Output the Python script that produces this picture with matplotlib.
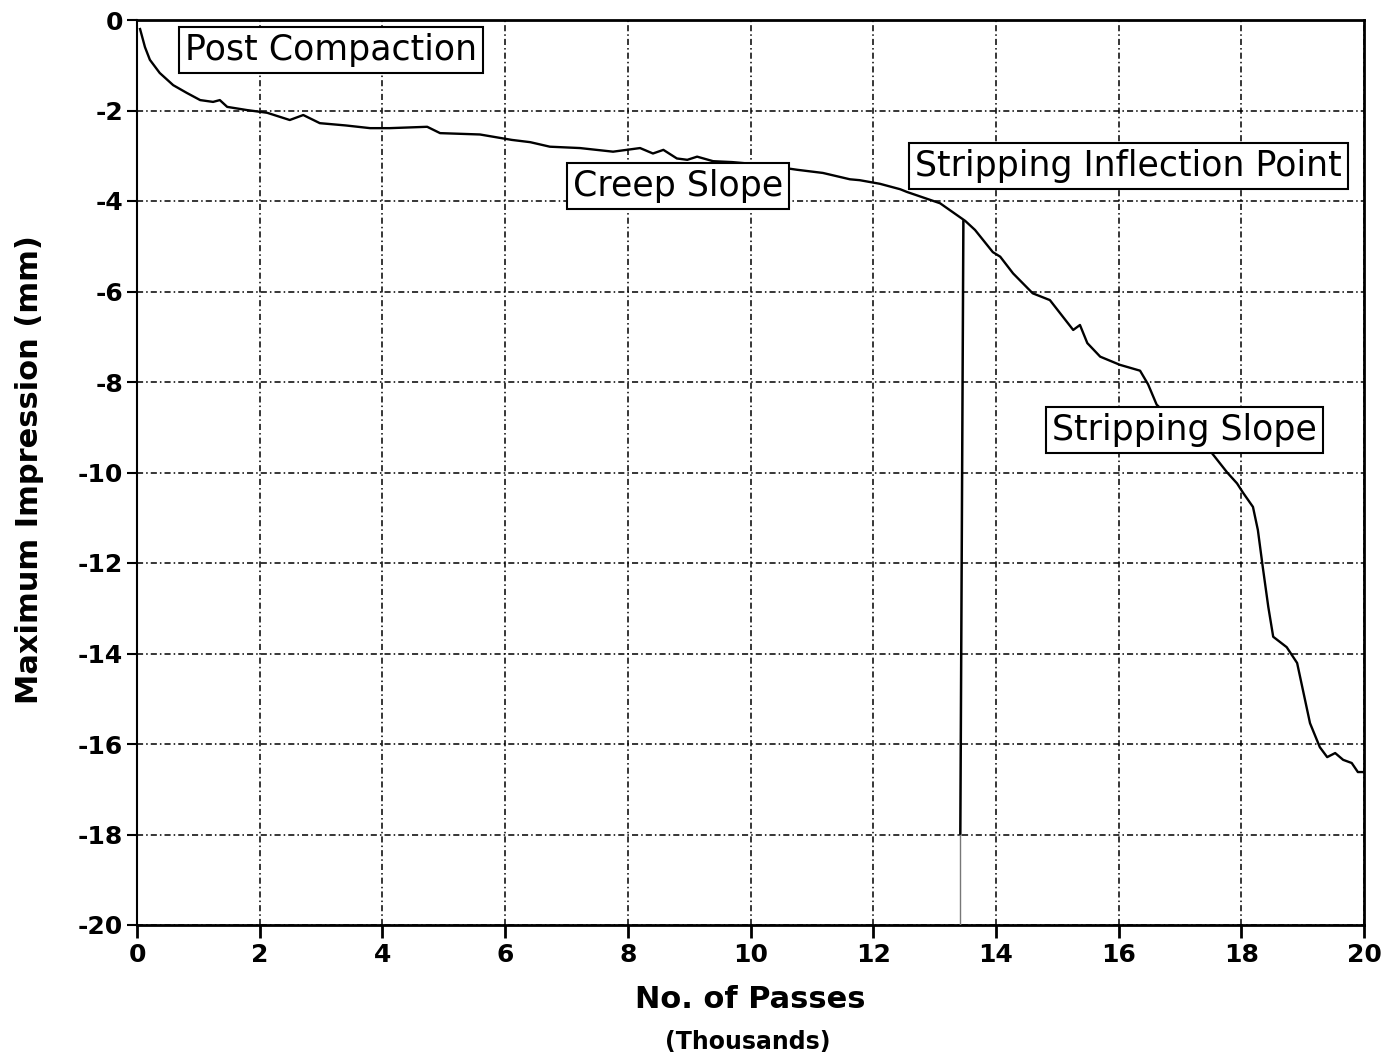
import matplotlib
matplotlib.use("Agg")
import matplotlib.pyplot as plt

# ---- data ----
passes_k = [0.05, 0.13, 0.21, 0.37, 0.59, 0.81, 1.03, 1.24, 1.35, 1.47, 1.79, 2.12,
            2.49, 2.71, 2.98, 3.4, 3.8, 4.12, 4.73, 4.94, 5.59, 6.11, 6.41, 6.73,
            7.22, 7.76, 8.2, 8.41, 8.58, 8.8, 8.97, 9.13, 9.39, 9.7, 10.2, 10.76,
            11.18, 11.62, 11.78, 12.11, 12.44, 12.55, 13.09, 13.5, 13.66, 13.95,
            14.07, 14.28, 14.6, 14.88, 15.26, 15.37, 15.49, 15.7, 16.02, 16.35,
            16.48, 16.62, 17.0, 17.3, 17.52, 17.77, 17.93, 18.03, 18.19, 18.27,
            18.35, 18.44, 18.52, 18.74, 18.91, 19.12, 19.28, 19.4, 19.53, 19.66,
            19.8, 19.9, 19.98]
impression_mm = [-0.2, -0.6, -0.88, -1.17, -1.44, -1.61, -1.77, -1.81, -1.77, -1.92,
                 -1.99, -2.05, -2.21, -2.10, -2.28, -2.33, -2.39, -2.39, -2.36, -2.5,
                 -2.53, -2.65, -2.70, -2.80, -2.83, -2.91, -2.83, -2.95, -2.87, -3.06,
                 -3.09, -3.02, -3.12, -3.14, -3.2, -3.31, -3.38, -3.52, -3.54, -3.62,
                 -3.74, -3.8, -4.05, -4.44, -4.64, -5.13, -5.23, -5.6, -6.04, -6.19,
                 -6.85, -6.74, -7.14, -7.44, -7.62, -7.75, -8.05, -8.5, -9.0, -9.3,
                 -9.57, -10.0, -10.24, -10.45, -10.76, -11.27, -12.09, -12.97, -13.63,
                 -13.86, -14.21, -15.54, -16.07, -16.29, -16.2, -16.35, -16.42,
                 -16.62, -16.62]

inflection_x = [13.47, 13.42]
inflection_y = [-4.45, -18.0]
inflection_tail_x = [13.41, 13.41]
inflection_tail_y = [-18.0, -20.0]

x_ticks = [0, 2, 4, 6, 8, 10, 12, 14, 16, 18, 20]
y_ticks = [0, -2, -4, -6, -8, -10, -12, -14, -16, -18, -20]

annotations = ["Post Compaction", "Creep Slope", "Stripping Inflection Point",
               "Stripping Slope"]
annot_x = [3.16, 8.82, 16.16, 17.07]
annot_y = [-0.66, -3.67, -3.23, -9.06]

# ---- figure ----
fig = plt.figure(figsize=(13.99, 10.61), dpi=100)
ax = fig.add_axes([137/1399, 1 - 925/1061, (1364-137)/1399, (925-20)/1061])

ax.plot(passes_k, impression_mm, color="black", lw=1.7, zorder=3)
ax.plot(inflection_x, inflection_y, color="black", lw=1.8, zorder=3)
ax.plot(inflection_tail_x, inflection_tail_y, color="#777777", lw=1.0, zorder=3)

ax.set_xlim(0, 20)
ax.set_ylim(-20, 0)
ax.set_xticks(x_ticks)
ax.set_yticks(y_ticks)
ax.set_xticklabels([str(t) for t in x_ticks])
ax.set_yticklabels([str(t) for t in y_ticks])

ax.grid(True, color="black", lw=1.1, linestyle=(0, (4, 2, 1, 2)), zorder=1)
ax.set_axisbelow(True)

for side in ["top", "right", "bottom"]:
    ax.spines[side].set_linewidth(2.0)
ax.spines["left"].set_linewidth(1.5)

ax.tick_params(axis="x", direction="out", length=9, width=2, pad=4,
               labelsize=18)
ax.tick_params(axis="y", direction="out", length=7, width=1.5, pad=3,
               labelsize=18)
for lab in ax.get_xticklabels() + ax.get_yticklabels():
    lab.set_fontweight("bold")
    lab.set_family("DejaVu Sans")

for txt, xx, yy in zip(annotations, annot_x, annot_y):
    ax.text(xx, yy, txt, ha="center", va="center", fontsize=25,
            family="DejaVu Sans", zorder=5,
            bbox=dict(boxstyle="square,pad=0.18", fc="white", ec="black", lw=1.5))

fig.text(30/1399, 1 - 470/1061, "Maximum Impression (mm)", rotation=90,
         ha="center", va="center", fontsize=22, fontweight="bold",
         family="DejaVu Sans")
fig.text(750/1399, 1 - 1000/1061, "No. of Passes", ha="center", va="center",
         fontsize=22, fontweight="bold", family="DejaVu Sans")
fig.text(748/1399, 1 - 1042/1061, "(Thousands)", ha="center", va="center",
         fontsize=17, fontweight="bold", family="DejaVu Sans")

fig.savefig("out.png", dpi=100, facecolor="white")
